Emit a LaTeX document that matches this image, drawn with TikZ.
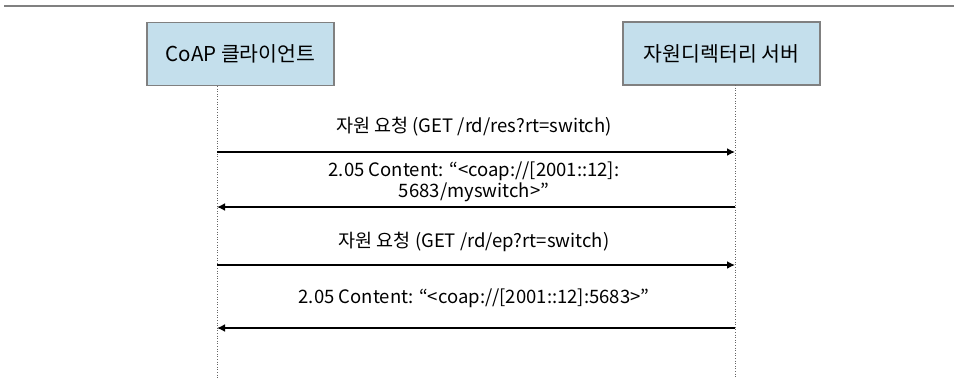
\documentclass[tikz,border=0pt]{standalone}
\usepackage{fontspec}
\setmainfont{Noto Sans CJK KR}
\usetikzlibrary{arrows.meta}
\definecolor{boxfill}{HTML}{C4DFEC}
\definecolor{boxline}{HTML}{808080}
\tikzset{
  actor/.style={draw=boxline, fill=boxfill, line width=1.2pt, minimum height=63pt, inner sep=0pt, font=\fontsize{20.5}{22}\selectfont},
  life/.style={draw=gray!80!black, line width=0.6pt, dotted},
  msg/.style={line width=2.6pt, -{Latex[length=8pt,width=8pt]}},
  lbl/.style={font=\fontsize{18.5}{20.5}\selectfont, align=center, inner sep=0pt},
}
\begin{document}
\begin{tikzpicture}[x=1pt,y=-1pt]
\useasboundingbox (0,0) rectangle (954,378);
\coordinate (tl) at (4,6);
\coordinate (tr) at (954,6);
\draw[gray, line width=1.5pt] (tl) -- (tr);
\node[actor, minimum width=187pt] (c) at (240.5,54) {CoAP 클라이언트};
\node[actor, minimum width=197pt] (s) at (721.5,53.5) {자원디렉터리 서버};
\coordinate (ct) at (217,86);
\coordinate (cb) at (217,378);
\coordinate (st) at (735,85);
\coordinate (sb) at (735,378);
\draw[life] (ct) -- (cb);
\draw[life] (st) -- (sb);
\coordinate (a1l) at (217,152); \coordinate (a1r) at (735,152);
\coordinate (a2l) at (217,207); \coordinate (a2r) at (735,207);
\coordinate (a3l) at (217,265); \coordinate (a3r) at (735,265);
\coordinate (a4l) at (217,328); \coordinate (a4r) at (735,328);
\draw[msg] (a1l) -- (a1r);
\draw[msg] (a2r) -- (a2l);
\draw[msg] (a3l) -- (a3r);
\draw[msg] (a4r) -- (a4l);
\node[lbl] (l1) at (474,127) {자원 요청 (GET /rd/res?rt=switch)};
\node[lbl] (l2) at (474,182) {2.05 Content: “<coap://[2001::12]:\\5683/myswitch>”};
\node[lbl] (l3) at (474,242) {자원 요청 (GET /rd/ep?rt=switch)};
\node[lbl] (l4) at (474,298) {2.05 Content: “<coap://[2001::12]:5683>”};
\end{tikzpicture}
\end{document}
